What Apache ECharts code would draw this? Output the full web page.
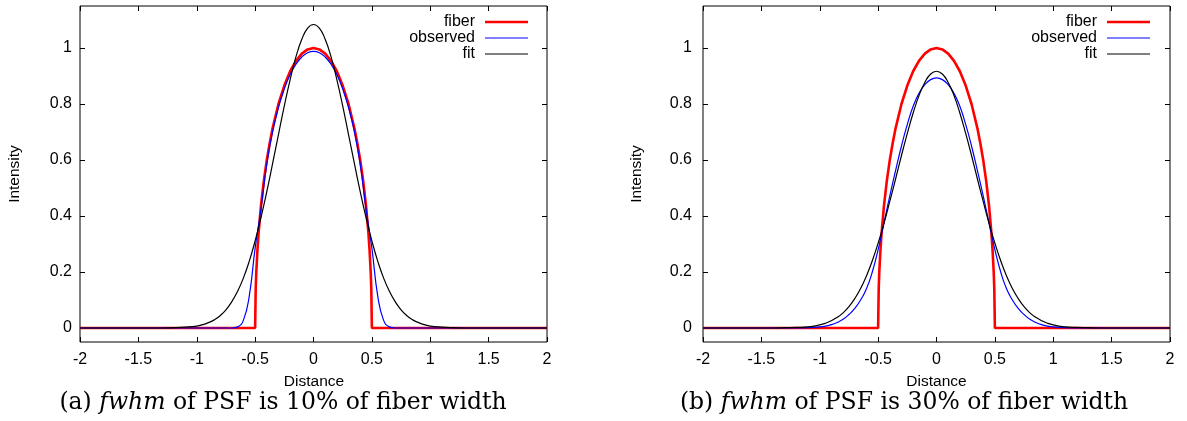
<!DOCTYPE html>
<html><head><meta charset="utf-8">
<script src="https://cdn.jsdelivr.net/npm/echarts@6/dist/echarts.min.js"></script>
<style>html,body{margin:0;padding:0;background:#fff}#c{width:1187px;height:421px}</style>
</head><body><div id="c"></div>
<script>
// ---- data ----
const xGrid = [-2, -1.5, -1.4, -1.3, -1.2, -1.1, -1.0, -0.95, -0.9, -0.85, -0.8, -0.75, -0.7, -0.65, -0.6, -0.55, -0.5, -0.45, -0.4, -0.35, -0.3, -0.25, -0.2, -0.15, -0.1, -0.05, 0, 0.05, 0.1, 0.15, 0.2, 0.25, 0.3, 0.35, 0.4, 0.45, 0.5, 0.55, 0.6, 0.65, 0.7, 0.75, 0.8, 0.85, 0.9, 0.95, 1.0, 1.1, 1.2, 1.3, 1.4, 1.5, 2];

const fiberX = [-2, -0.5, -0.495, -0.49, -0.48, -0.47, -0.45, -0.425, -0.4, -0.375, -0.35, -0.3, -0.25, -0.2, -0.15, -0.1, -0.05, 0, 0.05, 0.1, 0.15, 0.2, 0.25, 0.3, 0.35, 0.375, 0.4, 0.425, 0.45, 0.47, 0.48, 0.49, 0.495, 0.5, 2];
const fiberY = [0, 0, 0.14, 0.2, 0.28, 0.341, 0.436, 0.527, 0.6, 0.661, 0.714, 0.8, 0.866, 0.917, 0.954, 0.98, 0.995, 1, 0.995, 0.98, 0.954, 0.917, 0.866, 0.8, 0.714, 0.661, 0.6, 0.527, 0.436, 0.341, 0.28, 0.2, 0.14, 0, 0];

// panel (a): fwhm 10%
const observedA = [0,0,0,0,0,0,0,0,0,0,0,0,0, 0.004,0.028,0.115,0.285,0.425,0.586,0.702,0.788,0.854,0.905,0.942,0.968,0.983, 0.988, 0.983,0.968,0.942,0.905,0.854,0.788,0.702,0.586,0.425,0.285,0.115,0.028,0.004, 0,0,0,0,0,0,0,0,0,0,0,0,0];
const fitA = [0,0,0,0,0.001,0.003,0.007,0.012,0.019,0.029,0.044,0.065,0.094,0.131,0.179,0.239,0.311,0.394,0.487,0.588,0.691,0.793,0.887,0.969,1.031,1.071, 1.084, 1.071,1.031,0.969,0.887,0.793,0.691,0.588,0.487,0.394,0.311,0.239,0.179,0.131,0.094,0.065,0.044,0.029,0.019,0.012,0.007,0.003,0.001,0,0,0,0];

// panel (b): fwhm 30%
const observedB = [0,0,0,0,0,0.001,0.004,0.007,0.012,0.02,0.031,0.048,0.07,0.1,0.14,0.2,0.28,0.375,0.472,0.563,0.65,0.727,0.792,0.838,0.869,0.887, 0.893, 0.887,0.869,0.838,0.792,0.727,0.65,0.563,0.472,0.375,0.28,0.2,0.14,0.1,0.07,0.048,0.031,0.02,0.012,0.007,0.004,0.001,0,0,0,0,0];
const fitB = [0,0,0,0.001,0.002,0.004,0.011,0.017,0.026,0.038,0.054,0.076,0.105,0.141,0.186,0.240,0.303,0.374,0.452,0.533,0.616,0.695,0.768,0.830,0.877,0.907, 0.917, 0.907,0.877,0.830,0.768,0.695,0.616,0.533,0.452,0.374,0.303,0.240,0.186,0.141,0.105,0.076,0.054,0.038,0.026,0.017,0.011,0.004,0.002,0.001,0,0,0];

const seriesNames = ['fiber', 'observed', 'fit'];
const yTicks = [0, 0.2, 0.4, 0.6, 0.8, 1];
const xLabelName = 'Distance';
const yLabelName = 'Intensity';
const captionA = '(a) {i|fwhm} of PSF is 10% of fiber width';
const captionB = '(b) {i|fwhm} of PSF is 30% of fiber width';

// ---- chart ----
const SANS = '"Liberation Sans", Arial, sans-serif';
const SERIF = '"DejaVu Serif", serif';
const zip = (xs, ys) => xs.map((x, i) => [x, ys[i]]);
const grids = [
  {left: 80, top: 6, width: 467, height: 336},
  {left: 703, top: 6, width: 467, height: 336}
];
const tick = {inside: true, length: 5, lineStyle: {color: '#000', width: 1}};
function xAxes(gi) {
  return [
    {type: 'value', gridIndex: gi, position: 'bottom', min: -2, max: 2, interval: 0.5,
     axisLine: {show: false, onZero: false}, splitLine: {show: false}, axisTick: tick,
     axisLabel: {margin: 10, color: '#000', fontFamily: SANS, fontSize: 16}},
    {type: 'value', gridIndex: gi, position: 'top', min: -2, max: 2, interval: 0.5,
     axisLine: {show: false, onZero: false}, splitLine: {show: false}, axisTick: tick,
     axisLabel: {show: false}}
  ];
}
function yAxes(gi, margin) {
  const t = Object.assign({}, tick, {customValues: yTicks});
  return [
    {type: 'value', gridIndex: gi, position: 'left', min: -0.05, max: 1.15,
     axisLine: {show: false, onZero: false}, splitLine: {show: false}, axisTick: t,
     axisLabel: {margin: margin, color: '#000', fontFamily: SANS, fontSize: 16, customValues: yTicks}},
    {type: 'value', gridIndex: gi, position: 'right', min: -0.05, max: 1.15,
     axisLine: {show: false, onZero: false}, splitLine: {show: false}, axisTick: t,
     axisLabel: {show: false, customValues: yTicks}}
  ];
}
const lineIcon = w => 'path://M0,0H43V' + w + 'H0Z';
const iconWidths = [2.6, 1.2, 1.2];
const colors = ['#ff0000', '#0000ff', '#000000'];
function panelSeries(gi, obs, fit) {
  const base = {type: 'line', xAxisIndex: gi * 2, yAxisIndex: gi * 2, symbol: 'none', showSymbol: false, animation: false};
  return [
    Object.assign({}, base, {name: seriesNames[0], data: zip(fiberX, fiberY), color: colors[0], lineStyle: {color: colors[0], width: 2.6}}),
    Object.assign({}, base, {name: seriesNames[1], data: zip(xGrid, obs), smooth: 0.5, color: colors[1], lineStyle: {color: colors[1], width: 1.2}}),
    Object.assign({}, base, {name: seriesNames[2], data: zip(xGrid, fit), smooth: 0.5, color: colors[2], lineStyle: {color: colors[2], width: 1.2}})
  ];
}
function legendAt(right) {
  return {data: seriesNames.map((n, i) => ({name: n, icon: lineIcon(iconWidths[i]), itemStyle: {color: colors[i]}})),
    orient: 'vertical', align: 'right', right: right, top: 14, padding: 0,
    itemWidth: 43, itemHeight: 16, itemGap: 0, selectedMode: false, symbolKeepAspect: true,
    textStyle: {fontFamily: SANS, fontSize: 16, color: '#000', padding: [0, 5, 0, 0]}};
}
function txt(x, y, text, font, rot) {
  return {type: 'text', x: x, y: y, rotation: rot || 0, silent: true,
    style: {text: text, font: font, fill: '#000', textAlign: 'center', textVerticalAlign: 'middle', align: 'center', verticalAlign: 'middle'}};
}
function caption(x, y, text) {
  return {type: 'text', x: x, y: y, silent: true,
    style: {text: text, fill: '#000', fontFamily: SERIF, fontSize: 23.5,
      textAlign: 'center', textVerticalAlign: 'middle', align: 'center', verticalAlign: 'middle',
      rich: {i: {fontStyle: 'italic', fontFamily: SERIF, fontSize: 23.5, fill: '#000'}}}};
}

const chart = echarts.init(document.getElementById('c'), null, {renderer: 'canvas'});
chart.setOption({
  animation: false,
  backgroundColor: '#fff',
  grid: grids.map(g => Object.assign({show: true, borderColor: '#000', borderWidth: 1, backgroundColor: 'transparent'}, g)),
  xAxis: xAxes(0).concat(xAxes(1)),
  yAxis: yAxes(0, 8).concat(yAxes(1, 11)),
  legend: [legendAt(659), legendAt(37)],
  series: panelSeries(0, observedA, fitA).concat(panelSeries(1, observedB, fitB)),
  graphic: [
    txt(15, 174, yLabelName, '15.5px ' + SANS, Math.PI / 2),
    txt(637, 174, yLabelName, '15.5px ' + SANS, Math.PI / 2),
    txt(314, 382, xLabelName, '15.5px ' + SANS),
    txt(936.5, 382, xLabelName, '15.5px ' + SANS),
    caption(283, 403, captionA),
    caption(904, 403, captionB)
  ]
});
</script>
</body></html>
